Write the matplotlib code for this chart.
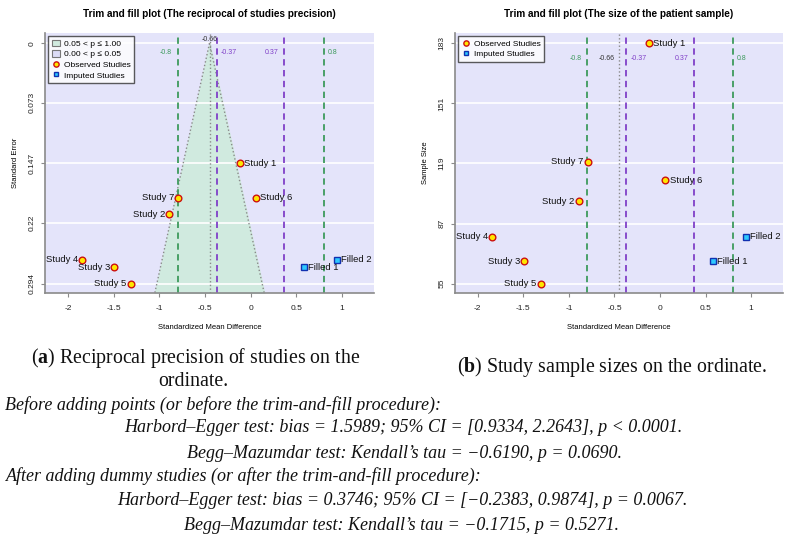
import matplotlib.pyplot as plt
from matplotlib.patches import Patch
from matplotlib.lines import Line2D
import numpy as np

plt.rcParams['mathtext.fontset'] = 'custom'
plt.rcParams['mathtext.rm'] = 'Liberation Serif'
plt.rcParams['mathtext.bf'] = 'Liberation Serif:bold'

# observed studies
studies = ['Study 1', 'Study 2', 'Study 3', 'Study 4', 'Study 5', 'Study 6', 'Study 7']
smd = [-0.12, -0.89, -1.49, -1.84, -1.31, 0.06, -0.79]
se = [0.147, 0.209, 0.274, 0.265, 0.294, 0.189, 0.189]
n_size = [183, 99, 67, 80, 55, 110, 120]
label_side = ['right', 'left', 'left', 'left', 'left', 'right', 'left']

# imputed (filled) studies
filled = ['Filled 1', 'Filled 2']
filled_smd = [0.58, 0.94]
filled_se = [0.274, 0.265]
filled_n = [67, 80]

# reference lines
center = -0.45
center_label = '-0.66'
green_lines = [-0.8, 0.8]
purple_lines = [-0.37, 0.37]

se_ticks = [0, 0.073, 0.147, 0.22, 0.294]
se_ticklabels = ['0', '0.073', '0.147', '0.22', '0.294']
n_ticks = [55, 87, 119, 151, 183]
x_ticks = [-2, -1.5, -1, -0.5, 0, 0.5, 1]
x_ticklabels = ['-2', '-1.5', '-1', '-0.5', '0', '0.5', '1']

W, H = 790, 539
BG = '#e4e4fa'
GREEN = '#3d9a5c'
PURPLE = '#8040c8'
FUNNEL = '#d0eadf'
SANS = 'Liberation Sans'
SERIF = 'Liberation Serif'

fig = plt.figure(figsize=(W / 100, H / 100), dpi=100)


def px_axes(x0, y0, x1, y1):
    return fig.add_axes([x0 / W, 1 - y1 / H, (x1 - x0) / W, (y1 - y0) / H])


def ftext(x, y, s, **kw):
    fig.text(x / W, 1 - y / H, s, **kw)


def style_axes(ax, yticks, yticklabels):
    ax.set_facecolor(BG)
    for s in ['top', 'right']:
        ax.spines[s].set_visible(False)
    for s in ['left', 'bottom']:
        ax.spines[s].set_color('#8a8a8a')
        ax.spines[s].set_linewidth(1.2)
    ax.set_xticks(x_ticks)
    ax.set_xticklabels(x_ticklabels, fontsize=6, family=SANS, color='#222222')
    ax.set_yticks(yticks)
    ax.set_yticklabels(yticklabels, fontsize=6, family=SANS, color='#222222',
                       rotation=90, va='center')
    ax.tick_params(length=3, color='#8a8a8a', pad=4)
    ax.tick_params(axis='x', pad=6)
    for t in yticks:
        ax.axhline(t, color='white', lw=1.2, zorder=1.5)
    ax.set_xlim(-2.25, 1.35)


def vlines(ax, ylab):
    for v in green_lines:
        ax.axvline(v, color=GREEN, lw=1.3, dashes=(3.5, 2.5), zorder=2)
    for v in purple_lines:
        ax.axvline(v, color=PURPLE, lw=1.3, dashes=(3.5, 2.5), zorder=2)
    ax.axvline(center, color='#8a8a8a', lw=1, ls=':', zorder=2)
    kw = dict(textcoords='offset points', fontsize=5, family=SANS, va='center')
    ax.annotate('-0.8', (green_lines[0], ylab), xytext=(-4, 0), ha='right', color=GREEN, **kw)
    ax.annotate('0.8', (green_lines[1], ylab), xytext=(3, 0), ha='left', color=GREEN, **kw)
    ax.annotate('-0.37', (purple_lines[0], ylab), xytext=(3, 0), ha='left', color=PURPLE, **kw)
    ax.annotate('0.37', (purple_lines[1], ylab), xytext=(-4, 0), ha='right', color=PURPLE, **kw)
    return kw


def points(ax, ys, fys):
    ax.plot(smd, ys, 'o', ms=4.8, mfc='#ffe600', mec='#cc1010', mew=1, zorder=4)
    ax.plot(filled_smd, fys, 's', ms=4.4, mfc='#2ec8ff', mec='#1030b0', mew=1, zorder=4)
    for name, x, y, side in zip(studies, smd, ys, label_side):
        dx = 3 if side == 'right' else -3
        ax.annotate(name, (x, y), xytext=(dx, 0), textcoords='offset points',
                    ha='left' if side == 'right' else 'right', va='center',
                    fontsize=6.8, family=SANS, color='#111111', zorder=5)
    for name, x, y in zip(filled, filled_smd, fys):
        ax.annotate(name, (x, y), xytext=(3, 0), textcoords='offset points',
                    ha='left', va='center', fontsize=6.8, family=SANS,
                    color='#111111', zorder=5)


obs_handle = Line2D([], [], ls='none', marker='o', ms=3.8, mfc='#ffe600', mec='#cc1010', mew=1)
imp_handle = Line2D([], [], ls='none', marker='s', ms=3.4, mfc='#2ec8ff', mec='#1030b0', mew=1)
leg_kw = dict(frameon=True, fancybox=False, edgecolor='#333333',
              handlelength=1.0, handleheight=0.8, handletextpad=0.45, borderpad=0.45,
              labelspacing=0.3, borderaxespad=0.35,
              loc='upper left', prop={'family': SANS, 'size': 6.0})

# ---------------- left panel ----------------
ax1 = px_axes(45, 33, 374, 293)
style_axes(ax1, se_ticks, se_ticklabels)
ylo, yhi = 0.3054, -0.0125
ax1.set_ylim(ylo, yhi)
yy = np.array([0, ylo])
ax1.fill_betweenx(yy, center - 1.96 * yy, center + 1.96 * yy, color=FUNNEL, zorder=1)
ax1.plot(center - 1.96 * yy, yy, color='#8a8a8a', lw=1, ls=':', zorder=2)
ax1.plot(center + 1.96 * yy, yy, color='#8a8a8a', lw=1, ls=':', zorder=2)
kw = vlines(ax1, 0.0115)
ax1.annotate(center_label, (center, -0.005), xytext=(0, 0), ha='center', color='#333333', **kw)
points(ax1, se, filled_se)
lg = ax1.legend(handles=[Patch(facecolor=FUNNEL, edgecolor='#777777', lw=0.8),
                         Patch(facecolor='#dcdcf6', edgecolor='#777777', lw=0.8),
                         obs_handle, imp_handle],
                labels=['0.05 < p ≤ 1.00', '0.00 < p ≤ 0.05', 'Observed Studies', 'Imputed Studies'],
                bbox_to_anchor=(0.0, 1.0), **leg_kw)
lg.get_frame().set_linewidth(1.0)
lg.set_zorder(6)
ax1.set_xlabel('Standardized Mean Difference', fontsize=5.5, family=SANS, labelpad=8)
ax1.set_ylabel('Standard Error', fontsize=5.5, family=SANS, labelpad=7)
ftext(209.5, 14, 'Trim and fill plot (The reciprocal of studies precision)',
      ha='center', va='center', fontsize=7.2, fontweight='bold', family=SANS)

# ---------------- right panel ----------------
ax2 = px_axes(455, 33, 783, 293)
style_axes(ax2, n_ticks, [str(t) for t in n_ticks])
ax2.set_ylim(50, 188.5)
kw = vlines(ax2, 175)
ax2.annotate(center_label, (center, 175), xytext=(-3, 0), ha='right', color='#333333', **kw)
points(ax2, n_size, filled_n)
lg2 = ax2.legend(handles=[obs_handle, imp_handle], labels=['Observed Studies', 'Imputed Studies'],
                 bbox_to_anchor=(0.0, 1.0), **leg_kw)
lg2.get_frame().set_linewidth(1.0)
lg2.set_zorder(6)
ax2.set_xlabel('Standardized Mean Difference', fontsize=5.5, family=SANS, labelpad=8)
ax2.set_ylabel('Sample Size', fontsize=5.5, family=SANS, labelpad=7)
ftext(619, 14, 'Trim and fill plot (The size of the patient sample)',
      ha='center', va='center', fontsize=7.2, fontweight='bold', family=SANS)

# ---------------- captions and test results ----------------
cap = dict(fontsize=14.3, family=SERIF, va='center', color='#111111')
ftext(196, 358, r'($\mathbf{a}$) Reciprocal precision of studies on the', ha='center', **cap)
ftext(193, 381.5, 'ordinate.', ha='center', **cap)
ftext(612, 367, r'($\mathbf{b}$) Study sample sizes on the ordinate.', ha='center', **cap)

it = dict(fontsize=13, family=SERIF, style='italic', va='center', color='#111111')
ftext(5, 405, 'Before adding points (or before the trim-and-fill procedure):', ha='left', **it)
ftext(403, 428, 'Harbord–Egger test: bias = 1.5989; 95% CI = [0.9334, 2.2643], p < 0.0001.', ha='center', **it)
ftext(405, 453, 'Begg–Mazumdar test: Kendall’s tau = −0.6190, p = 0.0690.', ha='center', **it)
ftext(6, 476.5, 'After adding dummy studies (or after the trim-and-fill procedure):', ha='left', **it)
ftext(402, 500.5, 'Harbord–Egger test: bias = 0.3746; 95% CI = [−0.2383, 0.9874], p = 0.0067.', ha='center', **it)
ftext(401, 525, 'Begg–Mazumdar test: Kendall’s tau = −0.1715, p = 0.5271.', ha='center', **it)

fig.savefig('out.png', dpi=100)
